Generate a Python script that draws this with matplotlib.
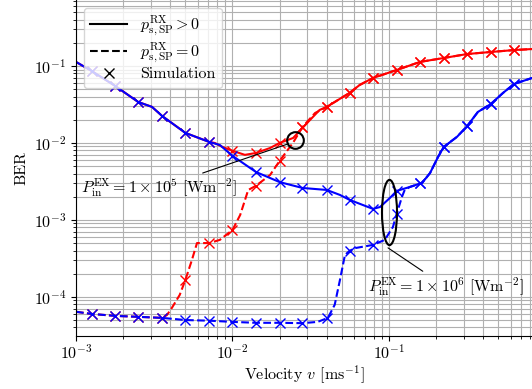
import matplotlib
matplotlib.use("Agg")
import matplotlib.pyplot as plt
from matplotlib.markers import MarkerStyle
from matplotlib.transforms import Affine2D
from matplotlib.lines import Line2D

plt.rcParams["font.family"] = "serif"
plt.rcParams["font.serif"] = ["cmr10"]
plt.rcParams["mathtext.fontset"] = "cm"
plt.rcParams["axes.formatter.use_mathtext"] = True
plt.rcParams["font.size"] = 11.5

# analytic curves, P_in = 1e6 (blue)
v_b_solid = [1e-3, 1.26e-3, 1.78e-3, 2.5e-3, 3.06e-3, 3.55e-3, 5e-3, 7.1e-3, 8.3e-3,
             1e-2, 1.41e-2, 2e-2, 2.8e-2, 4e-2, 4.86e-2, 5.6e-2, 7.9e-2, 8.76e-2, 0.1014,
             0.112, 0.136, 0.163, 0.183, 0.206, 0.224, 0.272, 0.316, 0.37, 0.447, 0.535,
             0.63, 0.82]
ber_b_solid = [0.113, 0.086, 0.055, 0.034, 0.0294, 0.0224, 0.0135, 0.0103, 0.0094,
               0.0068, 0.0042, 0.0031, 0.0026, 0.00245, 0.00211, 0.00182, 0.00139, 0.00147, 0.00193,
               0.00238, 0.00268, 0.00303, 0.00407, 0.0066, 0.0089, 0.012, 0.0166, 0.0253, 0.032, 0.0446,
               0.0584, 0.0698]

v_b_dash = [1e-3, 1.26e-3, 1.78e-3, 2.5e-3, 3.55e-3, 5e-3, 7.1e-3, 1e-2, 1.41e-2, 2e-2,
            2.8e-2, 3.5e-2, 4.07e-2, 4.5e-2, 4.86e-2, 5.23e-2, 5.6e-2, 6.07e-2, 7.9e-2,
            9.4e-2, 0.106, 0.112, 0.121, 0.126, 0.136, 0.163, 0.183, 0.206, 0.224, 0.272,
            0.316, 0.37, 0.447, 0.535, 0.63, 0.82]
ber_b_dash = [6.4e-5, 6.0e-5, 5.66e-5, 5.5e-5, 5.33e-5, 5.0e-5, 4.9e-5, 4.73e-5, 4.6e-5, 4.6e-5,
              4.55e-5, 4.73e-5, 5.33e-5, 7.9e-5, 1.66e-4, 3.5e-4, 3.96e-4, 4.3e-4, 4.73e-4,
              5.5e-4, 8.1e-4, 1.2e-3, 1.99e-3, 2.45e-3, 2.68e-3, 3.03e-3, 4.07e-3, 6.6e-3, 8.9e-3, 0.012,
              0.0166, 0.0253, 0.032, 0.0446, 0.0584, 0.0698]

# analytic curves, P_in = 1e5 (red)
v_r_solid = [1e-3, 1.26e-3, 1.78e-3, 2.5e-3, 3.06e-3, 3.55e-3, 5e-3, 7.1e-3, 7.7e-3, 8.6e-3,
             1e-2, 1.2e-2, 1.41e-2, 1.74e-2, 2e-2, 2.44e-2, 3.13e-2, 3.6e-2, 4e-2, 5.6e-2,
             6.5e-2, 7.9e-2, 0.112, 0.158, 0.224, 0.316, 0.447, 0.63, 0.82]
ber_r_solid = [0.113, 0.086, 0.055, 0.034, 0.0294, 0.0224, 0.0135, 0.0103, 0.0100, 0.0089,
               0.0079, 0.0070, 0.0074, 0.0086, 0.0100, 0.0116, 0.0199, 0.0268, 0.0294, 0.0447,
               0.0567, 0.0698, 0.0887, 0.113, 0.127, 0.143, 0.152, 0.161, 0.166]

v_r_dash = [1e-3, 1.26e-3, 1.78e-3, 2.5e-3, 3.55e-3, 3.81e-3, 4.1e-3, 4.6e-3, 5e-3, 5.5e-3,
            5.93e-3, 7.1e-3, 8.3e-3, 1e-2, 1.12e-2, 1.26e-2, 1.41e-2, 1.74e-2, 2e-2, 2.44e-2,
            2.8e-2, 3.37e-2, 4e-2, 5.6e-2, 6.5e-2, 7.9e-2, 0.112, 0.158, 0.224, 0.316, 0.447,
            0.63, 0.82]
ber_r_dash = [6.4e-5, 6.0e-5, 5.66e-5, 5.5e-5, 5.33e-5, 5.8e-5, 7.2e-5, 1.06e-4, 1.66e-4, 3.0e-4,
              5.0e-4, 5.0e-4, 5.5e-4, 7.4e-4, 1.16e-3, 2.45e-3, 2.77e-3, 3.84e-3, 5.84e-3, 0.0101,
              0.0161, 0.0245, 0.0294, 0.0447, 0.0567, 0.0698, 0.0887, 0.113, 0.127, 0.143, 0.152,
              0.161, 0.166]

# simulation points
v_sim = [1.26e-3, 1.78e-3, 2.5e-3, 3.55e-3, 5e-3, 7.1e-3, 1e-2, 1.41e-2, 2e-2, 2.8e-2,
         4e-2, 5.6e-2, 7.9e-2, 0.112, 0.158, 0.224, 0.316, 0.447, 0.63]
sim_b_solid = [0.086, 0.055, 0.034, 0.0224, 0.0135, 0.0103, 0.0068, 0.0042, 0.0031, 0.0026,
               0.00245, 0.00182, 0.00139, 0.00238, 0.00303, 0.0089, 0.0166, 0.032, 0.0584]
sim_b_dash = [6.0e-5, 5.66e-5, 5.5e-5, 5.33e-5, 5.0e-5, 4.9e-5, 4.73e-5, 4.6e-5, 4.6e-5, 4.55e-5,
              5.33e-5, 3.96e-4, 4.73e-4, 1.2e-3, 3.03e-3, 8.9e-3, 0.0166, 0.032, 0.0584]
sim_r_solid = [0.086, 0.055, 0.034, 0.0224, 0.0135, 0.0103, 0.0079, 0.0074, 0.0100, 0.0161,
               0.0294, 0.0447, 0.0698, 0.0887, 0.113, 0.127, 0.143, 0.152, 0.161]
sim_r_dash = [6.0e-5, 5.66e-5, 5.5e-5, 5.33e-5, 1.66e-4, 5.0e-4, 7.4e-4, 2.77e-3, 5.84e-3, 0.0161,
              0.0294, 0.0447, 0.0698, 0.0887, 0.113, 0.127, 0.143, 0.152, 0.161]

fig = plt.figure(figsize=(5.32, 3.89), dpi=100)
ax = fig.add_axes([76 / 532, 53 / 389, 456 / 532, 336 / 389])

lw = 1.5
mk = dict(marker="x", ms=6.5, mew=1.0, ls="none")
ax.plot(v_r_dash, ber_r_dash, "--", color="red", lw=lw)
ax.plot(v_r_solid, ber_r_solid, "-", color="red", lw=lw)
ax.plot(v_sim, sim_r_dash, color="red", **mk)
ax.plot(v_sim, sim_r_solid, color="red", **mk)
ax.plot(v_b_dash, ber_b_dash, "--", color="blue", lw=lw)
ax.plot(v_b_solid, ber_b_solid, "-", color="blue", lw=lw)
ax.plot(v_sim, sim_b_dash, color="blue", **mk)
ax.plot(v_sim, sim_b_solid, color="blue", **mk)

ax.set_xscale("log")
ax.set_yscale("log")
ax.set_xlim(1e-3, 0.82)
ax.set_ylim(3.1e-5, 0.72)
ax.grid(True, which="both", color="#b0b0b0", lw=0.8)
ax.set_axisbelow(True)
ax.spines["top"].set_visible(False)
ax.spines["right"].set_visible(False)
ax.tick_params(axis="x", which="major", pad=2)
ax.set_xlabel(r"Velocity $v$ [ms$^{-1}$]", labelpad=1)
ax.set_ylabel("BER")

# markers of the two marked operating points
ax.plot([2.51e-2], [0.011], marker="o", ms=12, mfc="none", mec="k", mew=1.5)
ell = MarkerStyle("o", transform=Affine2D().scale(0.23, 1.0))
ax.plot([0.1], [1.25e-3], marker=ell, ms=47, mfc="none", mec="k", mew=1.5)

ax.annotate(r"$P_{\rm in}^{\rm EX} = 1 \times 10^5\ [{\rm Wm}^{-2}]$",
            xy=(2.26e-2, 9.7e-3), xytext=(3.39e-3, 2.6e-3),
            ha="center", va="center",
            arrowprops=dict(arrowstyle="-", color="k", lw=0.8, shrinkB=0))
ax.annotate(r"$P_{\rm in}^{\rm EX} = 1 \times 10^6\ [{\rm Wm}^{-2}]$",
            xy=(9.86e-2, 4.33e-4), xytext=(0.231, 1.35e-4),
            ha="center", va="center",
            arrowprops=dict(arrowstyle="-", color="k", lw=0.8, shrinkB=0))

handles = [Line2D([], [], color="k", ls="-", lw=lw),
           Line2D([], [], color="k", ls="--", lw=lw),
           Line2D([], [], color="k", marker="x", ls="none", ms=6.5)]
labels = [r"$p_{\rm s,SP}^{\rm RX} > 0$", r"$p_{\rm s,SP}^{\rm RX} = 0$", "Simulation"]
ax.legend(handles, labels, loc="upper left", labelspacing=0.15, handlelength=2.3)

fig.savefig("out.png", dpi=100)
